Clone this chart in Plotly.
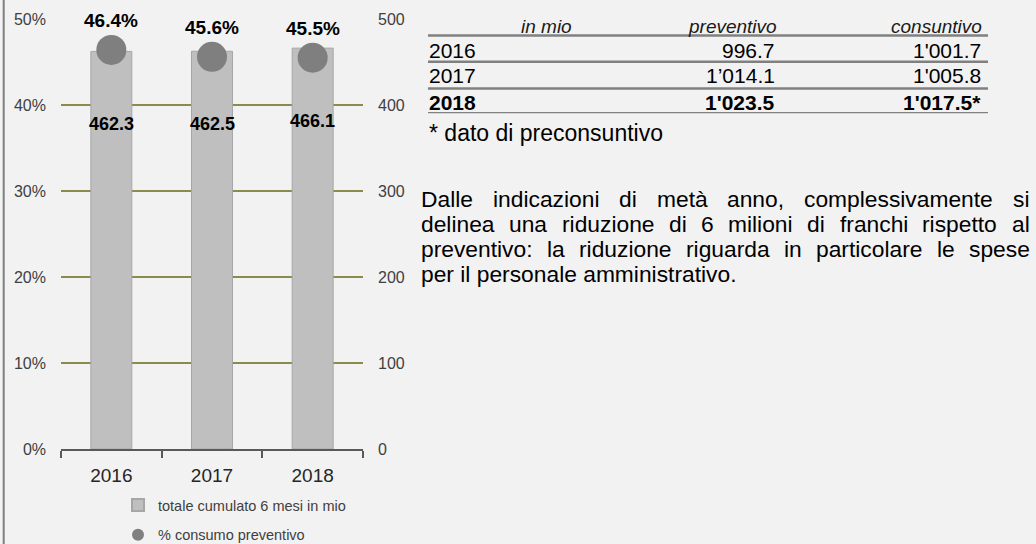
import plotly.graph_objects as go

# ---------------- data ----------------
years = ["2016", "2017", "2018"]
cumulated_6m = [462.3, 462.5, 466.1]      # totale cumulato 6 mesi in mio
pct_consumption = [46.4, 45.6, 45.5]      # % consumo preventivo

bar_name = "totale cumulato 6 mesi in mio"
dot_name = "% consumo preventivo"

pct_ticks = [0, 10, 20, 30, 40, 50]
abs_ticks = [0, 100, 200, 300, 400, 500]

table_header = ["in mio", "preventivo", "consuntivo"]
table_years = ["2016", "2017", "2018"]
table_preventivo = ["996.7", "1’014.1", "1'023.5"]
table_consuntivo = ["1'001.7", "1'005.8", "1'017.5*"]
table_bold = [False, False, True]
footnote = "* dato di preconsuntivo"

paragraph_lines = [
    "Dalle indicazioni di metà anno, complessivamente si",
    "delinea una riduzione di 6 milioni di franchi rispetto al",
    "preventivo: la riduzione riguarda in particolare le spese",
    "per il personale amministrativo.",
]

# ---------------- layout helpers ----------------
W, H = 1036, 544
FONT = "Arial, Liberation Sans, sans-serif"
BG = "#f2f2f2"


def px(x):
    return x / W


def py(y):
    return 1 - y / H


# Arial advance widths (per 1000 em) for justified paragraph
ARIAL = {
    'a': 556, 'b': 556, 'c': 500, 'd': 556, 'e': 556, 'f': 278, 'g': 556,
    'h': 556, 'i': 222, 'j': 222, 'k': 500, 'l': 222, 'm': 833, 'n': 556,
    'o': 556, 'p': 556, 'q': 556, 'r': 333, 's': 500, 't': 278, 'u': 556,
    'v': 500, 'w': 722, 'x': 500, 'y': 500, 'z': 500, 'à': 556, 'D': 722,
    ',': 278, '.': 278, ':': 278, ' ': 278,
}


def text_width(s, size):
    return sum(ARIAL.get(ch, 556) for ch in s) * size / 1000.0


fig = go.Figure()

fig.add_trace(go.Bar(
    x=years, y=cumulated_6m, name=bar_name, yaxis="y",
    marker=dict(color="#bfbfbf", line=dict(color="#a6a6a6", width=1)),
    legendgroup="a", hoverinfo="x+y",
))
fig.add_trace(go.Scatter(
    x=years, y=pct_consumption, name=dot_name, yaxis="y2", mode="markers",
    marker=dict(color="#7f7f7f", size=30),
    legendgroup="b", hoverinfo="x+y",
))

annotations = []
# value labels on bars (x given as category index)
for i, v in enumerate(cumulated_6m):
    annotations.append(dict(
        x=i, y=v, xref="x", yref="y", text=f"<b>{v:.1f}</b>", showarrow=False,
        yshift=-73, font=dict(family=FONT, size=18, color="#000000"),
        xanchor="center", yanchor="middle", borderpad=0, borderwidth=0,
    ))
# percentage labels above dots
for i, p in enumerate(pct_consumption):
    annotations.append(dict(
        x=i, y=p, xref="x", yref="y2", text=f"<b>{p:.1f}%</b>", showarrow=False,
        yshift=29, font=dict(family=FONT, size=19, color="#000000"),
        xanchor="center", yanchor="middle", borderpad=0, borderwidth=0,
    ))

# ---------------- table ----------------
hdr_y = 26
row_y = [50, 76, 102.5]
hdr_font = dict(family=FONT, size=19, color="#1a1a1a")


def paper_text(x, y, text, anchor, font):
    return dict(x=px(x), y=py(y), xref="paper", yref="paper", text=text,
                showarrow=False, xanchor=anchor, yanchor="middle", font=font,
                borderpad=0, borderwidth=0)


annotations.append(paper_text(546, hdr_y, f"<i>{table_header[0]}</i>", "center", hdr_font))
annotations.append(paper_text(777, hdr_y, f"<i>{table_header[1]}</i>", "right", hdr_font))
annotations.append(paper_text(982, hdr_y, f"<i>{table_header[2]}</i>", "right", hdr_font))

for yv, yr, pv, cv, b in zip(row_y, table_years, table_preventivo, table_consuntivo, table_bold):
    wrap = (lambda s: f"<b>{s}</b>") if b else (lambda s: s)
    f = dict(family=FONT, size=21, color="#000000")
    annotations.append(paper_text(429, yv, wrap(yr), "left", f))
    annotations.append(paper_text(775, yv, wrap(pv), "right", f))
    annotations.append(paper_text(980.5, yv, wrap(cv), "right", f))

annotations.append(paper_text(429, 133, footnote, "left",
                              dict(family=FONT, size=23, color="#000000")))

# ---------------- justified paragraph ----------------
PF = 22.8
left_x, right_x = 421.0, 1029.5
para_y = [199, 224, 249, 274]
for i, (line, yv) in enumerate(zip(paragraph_lines, para_y)):
    pf = dict(family=FONT, size=PF, color="#000000")
    if i == len(paragraph_lines) - 1:
        annotations.append(paper_text(left_x, yv, line, "left", pf))
        continue
    words = line.split(" ")
    widths = [text_width(w, PF) for w in words]
    gap = (right_x - left_x - sum(widths)) / (len(words) - 1)
    xcur = left_x
    for w, wd in zip(words, widths):
        annotations.append(paper_text(xcur, yv, w, "left", pf))
        xcur += wd + gap

# ---------------- shapes ----------------
shapes = [
    dict(type="line", xref="paper", yref="paper", x0=px(3.7), x1=px(3.7),
         y0=0, y1=1, line=dict(color="#7f7f7f", width=2)),
]
for ly, lw in [(35.5, 2.5), (61.7, 2.5), (88.5, 2.5), (112.7, 1.3)]:
    shapes.append(dict(type="line", xref="paper", yref="paper",
                       x0=px(428), x1=px(988), y0=py(ly), y1=py(ly),
                       line=dict(color="#808080", width=lw)))

y_dom = [py(449), py(19)]
fig.update_layout(
    width=W, height=H,
    margin=dict(l=0, r=0, t=0, b=0, pad=0, autoexpand=False),
    paper_bgcolor=BG, plot_bgcolor=BG,
    font=dict(family=FONT, color="#404040"),
    bargap=0.593,
    showlegend=True,
    legend=dict(
        xref="container", yref="container",
        x=px(118), y=py(489), xanchor="left", yanchor="top",
        orientation="v", bgcolor="rgba(0,0,0,0)",
        font=dict(family=FONT, size=14.5, color="#404040"),
        tracegroupgap=8, itemsizing="constant",
    ),
    xaxis=dict(
        domain=[px(61), px(363)], type="category", range=[-0.5, 2.5],
        automargin=False, tickangle=0,
        showline=True, linecolor="#595959", linewidth=1.5,
        ticks="outside", tickson="boundaries", ticklen=7,
        tickcolor="#595959", tickwidth=1.5,
        tickfont=dict(family=FONT, size=19, color="#262626"),
        showgrid=False, ticklabelstandoff=8,
    ),
    yaxis=dict(
        domain=y_dom, range=[0, 500], tickvals=abs_ticks, automargin=False,
        side="right", showgrid=True, gridcolor="#8c8a4c", gridwidth=1.5,
        zeroline=False, showline=False,
        tickfont=dict(family=FONT, size=16, color="#404040"),
        ticklabelstandoff=14,
    ),
    yaxis2=dict(
        domain=y_dom, range=[0, 50], tickvals=pct_ticks, automargin=False,
        ticktext=[f"{t}%" for t in pct_ticks],
        overlaying="y", side="left", anchor="x",
        showgrid=False, zeroline=False, showline=False,
        tickfont=dict(family=FONT, size=16, color="#404040"),
        ticklabelstandoff=14,
    ),
    annotations=annotations,
    shapes=shapes,
)

fig.write_html(
    "out.html",
    config={"displayModeBar": False},
    post_script="document.body.style.margin='0';document.body.style.overflow='hidden';",
)
